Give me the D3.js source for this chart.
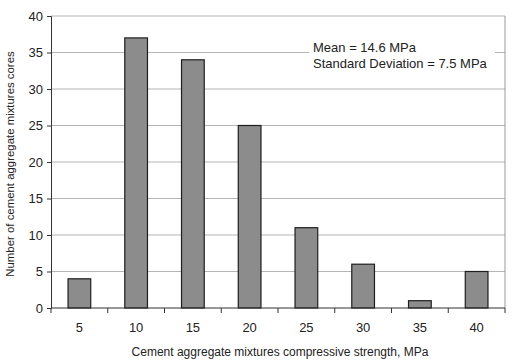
<!DOCTYPE html>
<html>
<head>
  <meta charset="utf-8">
  <title>Compressive strength histogram</title>
  <script src="https://cdnjs.cloudflare.com/ajax/libs/d3/7.8.5/d3.min.js"></script>
  <style>
    body { margin: 0; background: #fff; }
    text { font-family: "Liberation Sans", Arial, sans-serif; fill: #222; }
  </style>
</head>
<body>
<div id="chart"></div>
<script>
var categories = ['5', '10', '15', '20', '25', '30', '35', '40'];
var counts = [4, 37, 34, 25, 11, 6, 1, 5];
var yTicks = [0, 5, 10, 15, 20, 25, 30, 35, 40];
var notes = ['Mean = 14.6 MPa', 'Standard Deviation = 7.5 MPa'];

var width = 515, height = 361;
var margin = {top: 16, right: 10, bottom: 53, left: 51};
var w = width - margin.left - margin.right;
var h = height - margin.top - margin.bottom;

var svg = d3.select('#chart').append('svg')
  .attr('width', width)
  .attr('height', height);

var g = svg.append('g')
  .attr('transform', 'translate(' + margin.left + ',' + margin.top + ')');

var x = d3.scaleBand().domain(categories).range([0, w]).paddingInner(0.6).paddingOuter(0.3);
var y = d3.scaleLinear().domain([0, 40]).range([h, 0]);

// gridlines
g.selectAll('.grid')
  .data(yTicks.filter(function(d) { return d > 0; }))
  .enter().append('line')
  .attr('x1', 0).attr('x2', w)
  .attr('y1', function(d) { return y(d); })
  .attr('y2', function(d) { return y(d); })
  .attr('stroke', '#b5b5b5')
  .attr('stroke-width', 1);

// right frame
g.append('line')
  .attr('x1', w).attr('x2', w).attr('y1', 0).attr('y2', h)
  .attr('stroke', '#999');

// annotation with white backing
var note = g.append('g').attr('transform', 'translate(262,36)');
note.append('rect')
  .attr('x', -4).attr('y', -14).attr('width', 186).attr('height', 36)
  .attr('fill', '#fff');
note.selectAll('text')
  .data(notes)
  .enter().append('text')
  .attr('x', 0)
  .attr('y', function(d, i) { return i * 16; })
  .attr('font-size', 13)
  .text(function(d) { return d; });

// bars
g.selectAll('.bar')
  .data(counts)
  .enter().append('rect')
  .attr('x', function(d, i) { return x(categories[i]); })
  .attr('y', function(d) { return y(d); })
  .attr('width', x.bandwidth())
  .attr('height', function(d) { return h - y(d); })
  .attr('fill', '#8c8c8c')
  .attr('stroke', '#1e1e1e')
  .attr('stroke-width', 1.2);

// y axis
var yAxis = g.append('g')
  .call(d3.axisLeft(y).tickValues(yTicks).tickSize(4).tickPadding(4));
yAxis.select('.domain').attr('stroke', '#333');
yAxis.selectAll('.tick line').attr('stroke', '#333');
yAxis.selectAll('text').attr('font-size', 13).attr('fill', '#222');

// x axis: ticks between categories
var xEdges = d3.range(categories.length + 1).map(function(i) { return i * w / categories.length; });
var xAxis = g.append('g').attr('transform', 'translate(0,' + h + ')');
xAxis.append('line').attr('x1', 0).attr('x2', w).attr('stroke', '#333');
xAxis.selectAll('.edge')
  .data(xEdges)
  .enter().append('line')
  .attr('x1', function(d) { return d; }).attr('x2', function(d) { return d; })
  .attr('y1', 0).attr('y2', 5)
  .attr('stroke', '#333');
xAxis.selectAll('.lbl')
  .data(categories)
  .enter().append('text')
  .attr('x', function(d) { return x(d) + x.bandwidth() / 2; })
  .attr('y', 24)
  .attr('text-anchor', 'middle')
  .attr('font-size', 13)
  .text(function(d) { return d; });

// axis titles
svg.append('text')
  .attr('x', margin.left + w / 2 + 2)
  .attr('y', 356)
  .attr('text-anchor', 'middle')
  .attr('font-size', 12)
  .text('Cement aggregate mixtures compressive strength, MPa');

svg.append('text')
  .attr('transform', 'translate(14,164) rotate(-90)')
  .attr('text-anchor', 'middle')
  .attr('font-size', 11.4)
  .text('Number of cement aggregate mixtures cores');
</script>
</body>
</html>
